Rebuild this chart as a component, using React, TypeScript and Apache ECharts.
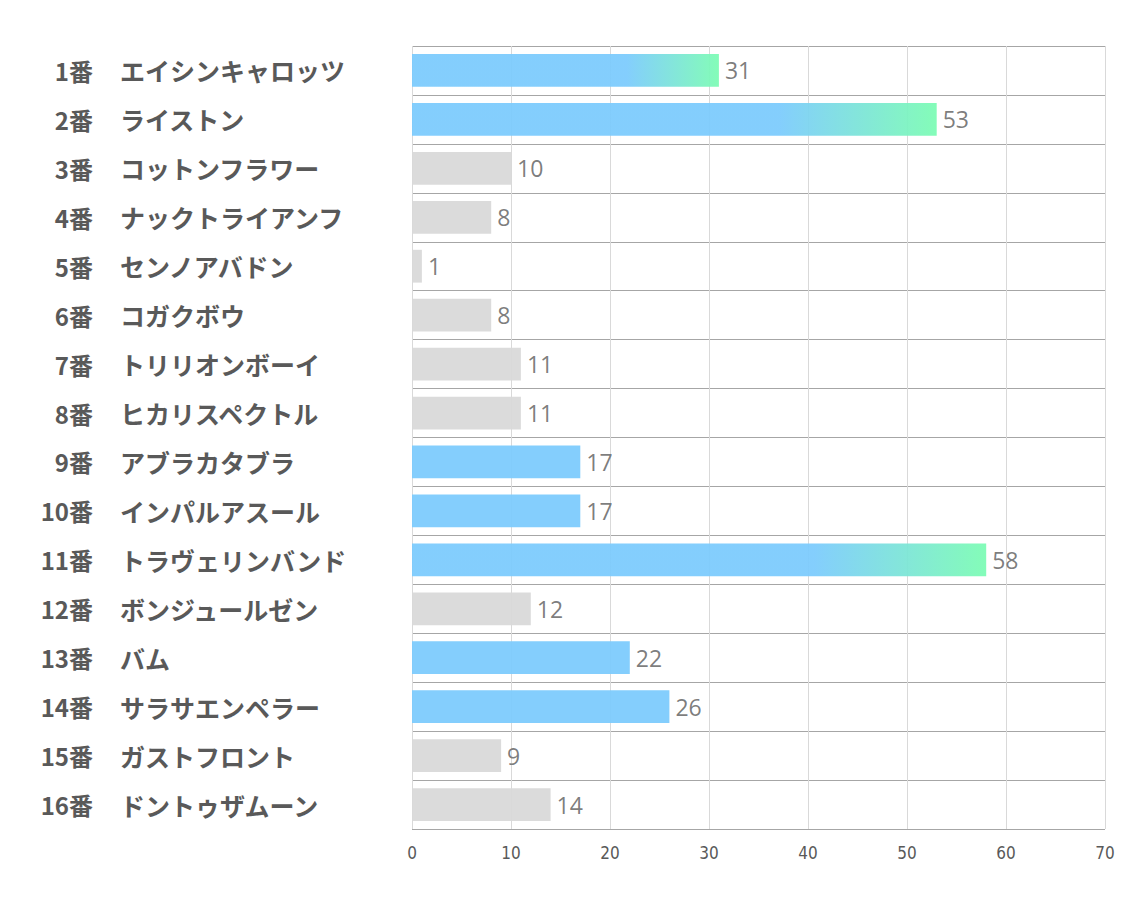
import React, { useEffect, useRef } from "react";
import * as echarts from "echarts";

const numbers: string[] = ["1番", "2番", "3番", "4番", "5番", "6番", "7番", "8番", "9番", "10番", "11番", "12番", "13番", "14番", "15番", "16番"];
const horses: string[] = [
  "エイシンキャロッツ", "ライストン", "コットンフラワー", "ナックトライアンフ",
  "センノアバドン", "コガクボウ", "トリリオンボーイ", "ヒカリスペクトル",
  "アブラカタブラ", "インパルアスール", "トラヴェリンバンド", "ボンジュールゼン",
  "バム", "サラサエンペラー", "ガストフロント", "ドントゥザムーン",
];
const values: number[] = [31, 53, 10, 8, 1, 8, 11, 11, 17, 17, 58, 12, 22, 26, 9, 14];
// g = gradient highlight, b = blue, n = neutral gray
const kinds: string[] = ["g", "g", "n", "n", "n", "n", "n", "n", "b", "b", "g", "n", "b", "b", "n", "n"];
const xTicks: number[] = [0, 10, 20, 30, 40, 50, 60, 70];

const BLUE = "#7ccbfd";
const GREEN = "#7cfcb4";
const GRAY = "#d9d9d9";

function colorFor(kind: string): any {
  if (kind === "g") {
    return {
      type: "linear",
      x: 0,
      y: 0,
      x2: 1,
      y2: 0,
      colorStops: [
        { offset: 0, color: BLUE },
        { offset: 0.7, color: BLUE },
        { offset: 1, color: GREEN },
      ],
    };
  }
  if (kind === "b") return BLUE;
  return GRAY;
}

const labelFont = "'Noto Sans CJK JP', sans-serif";

export default function App() {
  const ref = useRef<HTMLDivElement>(null);

  useEffect(() => {
    if (!ref.current) return;
    const chart = echarts.init(ref.current, undefined, { renderer: "svg" });
    chart.setOption({
      animation: false,
      backgroundColor: "#ffffff",
      grid: { left: 412, right: 29, top: 46, bottom: 78, containLabel: false },
      xAxis: {
        type: "value",
        min: xTicks[0],
        max: xTicks[xTicks.length - 1],
        interval: 10,
        axisLine: { show: false },
        axisTick: { show: false },
        splitLine: { show: true, lineStyle: { color: "#d9d9d9", width: 1 } },
        axisLabel: {
          margin: 15,
          fontSize: 17,
          color: "#595959",
          fontFamily: "'Liberation Sans Narrow', 'DejaVu Sans Condensed', sans-serif",
        },
      },
      yAxis: [
        {
          type: "category",
          inverse: true,
          data: numbers,
          axisLine: { show: false },
          axisTick: { show: false },
          splitLine: { show: true, interval: 0, lineStyle: { color: "#a6a6a6", width: 1 } },
          axisLabel: {
            interval: 0,
            align: "right",
            margin: 319,
            fontSize: 24,
            fontWeight: "bold",
            color: "#595959",
            fontFamily: labelFont,
          },
        },
        {
          type: "category",
          position: "left",
          inverse: true,
          data: horses,
          axisLine: { show: false },
          axisTick: { show: false },
          splitLine: { show: false },
          axisLabel: {
            interval: 0,
            align: "left",
            margin: 292,
            fontSize: 25,
            fontWeight: "bold",
            color: "#595959",
            fontFamily: labelFont,
          },
        },
      ],
      series: [
        {
          type: "bar",
          yAxisIndex: 0,
          barWidth: "67%",
          data: values.map((v, i) => ({
            value: v,
            itemStyle: { color: colorFor(kinds[i]), opacity: 0.94 },
          })),
          label: {
            show: true,
            position: "right",
            distance: 6,
            fontSize: 23,
            color: "#767676",
            fontFamily: "'Open Sans', sans-serif",
          },
        },
      ],
    });
    return () => chart.dispose();
  }, []);

  return (
    <div
      ref={ref}
      style={{ position: "absolute", left: 0, top: 0, width: 1134, height: 907 }}
    />
  );
}
